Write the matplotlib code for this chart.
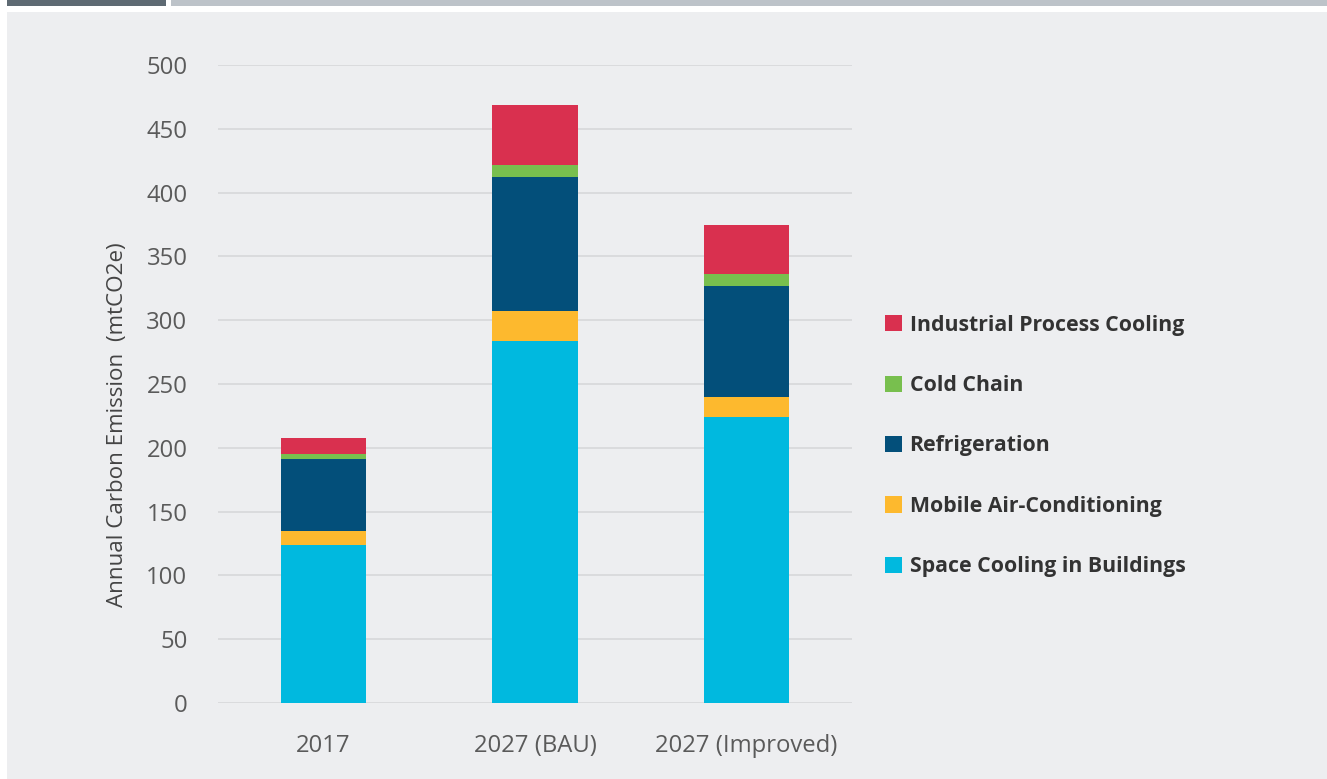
import matplotlib
matplotlib.use('Agg')
import matplotlib.pyplot as plt
from matplotlib import font_manager as fm
from matplotlib.patches import Rectangle, Patch

plt.rcParams['font.family'] = ['Open Sans', 'DejaVu Sans']

# pick the plain-width regular Open Sans file if there are several widths
regular = None
for f in fm.fontManager.ttflist:
    if f.name == 'Open Sans' and f.style == 'normal' and f.weight in (400, 'normal') \
            and f.stretch in ('normal', 500):
        regular = f.fname
        break
if regular:
    txt = fm.FontProperties(fname=regular)
else:
    txt = fm.FontProperties(family=['Open Sans', 'DejaVu Sans'])

scenarios = ['2017', '2027 (BAU)', '2027 (Improved)']
space_cooling = [124, 284, 224]
mobile_ac = [11, 23, 16]
refrigeration = [56, 105, 87]
cold_chain = [4, 10, 9]
industrial = [13, 47, 39]

sectors = ['Space Cooling in Buildings', 'Mobile Air-Conditioning',
           'Refrigeration', 'Cold Chain', 'Industrial Process Cooling']
colors = ['#00B9DF', '#FDB92E', '#034F7A', '#78BF4E', '#D9304F']
series = [space_cooling, mobile_ac, refrigeration, cold_chain, industrial]

W, H = 1327, 779
fig = plt.figure(figsize=(W / 100, H / 100), dpi=100)
fig.patch.set_facecolor('white')

# header strips and panel background
fig.add_artist(Rectangle((7 / W, 1 - 6 / H), 159 / W, 6 / H,
                         transform=fig.transFigure, color='#5E6A73', lw=0))
fig.add_artist(Rectangle((171 / W, 1 - 6 / H), (W - 171) / W, 6 / H,
                         transform=fig.transFigure, color='#BDC3C9', lw=0))
fig.add_artist(Rectangle((7 / W, 0), (W - 7) / W, 1 - 12 / H,
                         transform=fig.transFigure, color='#EDEEF0', lw=0,
                         zorder=-10))

ax = fig.add_axes([218 / W, 1 - 703 / H, 634 / W, (703 - 65) / H])
ax.set_facecolor('none')

x = range(len(scenarios))
bottom = [0] * len(scenarios)
for vals, col, name in zip(series, colors, sectors):
    ax.bar(x, vals, width=0.403, bottom=bottom, color=col, label=name,
           zorder=3)
    bottom = [b + v for b, v in zip(bottom, vals)]

ax.set_xlim(-0.5, 2.5)
ax.set_ylim(0, 500)
ax.set_yticks(range(0, 501, 50))
ax.set_xticks(list(x))
ax.set_xticklabels(scenarios)
ax.grid(axis='y', color='#D8D9DB', lw=1.3, zorder=0)
for s in ax.spines.values():
    s.set_visible(False)
ax.tick_params(length=0, labelcolor='#5A5A5A')
ax.tick_params(axis='y', pad=22)
ax.tick_params(axis='x', pad=22)
for lab in ax.get_xticklabels() + ax.get_yticklabels():
    lab.set_fontproperties(txt)
    lab.set_fontsize(17.2)

ax.set_ylabel('Annual Carbon Emission  (mtCO2e)', fontproperties=txt,
              fontsize=16.1, color='#444444')
ax.yaxis.set_label_coords(-0.142, 0.436)

handles = [Patch(facecolor=c, edgecolor='none') for c in colors][::-1]
leg = fig.legend(handles, sectors[::-1], loc='upper left',
                 bbox_to_anchor=(866 / W, 1 - 295.5 / H),
                 frameon=False, handlelength=0.8, handleheight=0.8,
                 handletextpad=0.35, labelspacing=1.855,
                 prop={'size': 15.3, 'weight': 'bold'})
for t in leg.get_texts():
    t.set_color('#333333')

fig.savefig('out.png', dpi=100, facecolor=fig.get_facecolor())
